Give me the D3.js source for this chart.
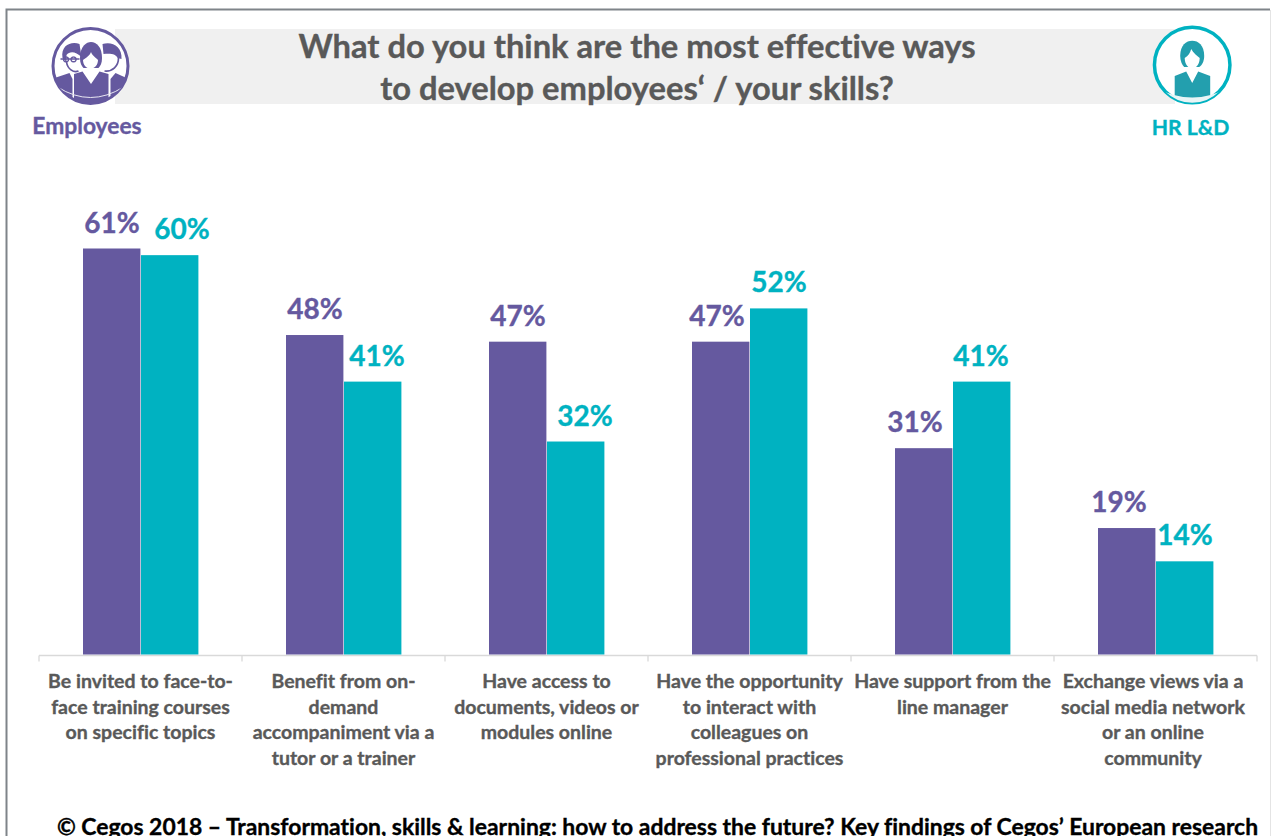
<!DOCTYPE html>
<html>
<head>
<meta charset="utf-8">
<script src="https://cdnjs.cloudflare.com/ajax/libs/d3/7.8.5/d3.min.js"></script>
<style>
html,body{margin:0;padding:0;background:#fff;overflow:hidden}
svg{display:block}
text{font-family:Lato,"Open Sans",sans-serif;font-weight:700;font-variant-ligatures:none;paint-order:stroke;stroke-width:.35px}
</style>
</head>
<body>
<svg id="chart" width="1271" height="836"></svg>
<script>
const categories = [
  ["Be invited to face-to-","face training courses","on specific topics"],
  ["Benefit from on-","demand","accompaniment via a","tutor or a trainer"],
  ["Have access to","documents, videos or","modules online"],
  ["Have the opportunity","to interact with","colleagues on","professional practices"],
  ["Have support from the","line manager"],
  ["Exchange views via a","social media network","or an online","community"]
];
const employees = [61,48,47,47,31,19];
const hrLd = [60,41,32,52,41,14];
const seriesNames = ["Employees","HR L&D"];
const titleLines = ["What do you think are the most effective ways","to develop employees‘ / your skills?"];
const footer = "© Cegos 2018 – Transformation, skills & learning: how to address the future? Key findings of Cegos’ European research";

// hand-placed nudges that keep value labels clear of the neighbouring bar
const employeeLabelNudge = [0,0,0,-4,-9,-8];
const hrLabelNudge = [12,4,9,0,-1,0];
const categoryLabelNudge = [0,0,0,0,0,-2.5];

const PURPLE="#65599f", TEAL="#00b2c1", ICON_TEAL="#239fae", GREY="#595959";
const svg=d3.select("#chart");

// outer frame of the slide
svg.append("path").attr("d","M6.5,836V9.5H1270").attr("fill","none").attr("stroke","#7f8489").attr("stroke-width",2);
svg.append("line").attr("x1",1270.5).attr("x2",1270.5).attr("y1",10).attr("y2",836).attr("stroke","#e4e4e4");

// title band
svg.append("rect").attr("x",115).attr("y",29).attr("width",1060).attr("height",75).attr("fill","#f0f0f0");
svg.selectAll("text.title").data(titleLines).join("text").attr("class","title")
  .attr("x",637).attr("y",(d,i)=>58+i*41.5).attr("text-anchor","middle")
  .attr("font-size",32.7).attr("fill",GREY).attr("stroke",GREY).text(d=>d);

// scales
const x=d3.scaleBand().domain(d3.range(categories.length)).range([39,1257]);
const y=d3.scaleLinear().domain([0,61]).range([654.5,248.5]);
const inner=d3.scaleBand().domain([0,1]).range([0,116]);
const offset=(x.bandwidth()-116)/2+0.5;

// axis baseline with ticks between categories
const axisY=655.5;
svg.append("path").attr("fill","none").attr("stroke","#d9d9d9").attr("stroke-width",1.3)
  .attr("d","M"+x.range()[0]+","+axisY+"H"+x.range()[1]);
svg.selectAll("line.tick").data(d3.range(categories.length+1)).join("line").attr("class","tick")
  .attr("x1",i=>x.range()[0]+i*x.step()).attr("x2",i=>x.range()[0]+i*x.step())
  .attr("y1",axisY).attr("y2",axisY+6).attr("stroke","#d9d9d9").attr("stroke-width",1.3);

// bars and value labels
[[employees,PURPLE,employeeLabelNudge],[hrLd,TEAL,hrLabelNudge]].forEach(([vals,col,nudge],s)=>{
  svg.selectAll("rect.s"+s).data(vals).join("rect").attr("class","s"+s)
    .attr("x",(d,i)=>x(i)+offset+inner(s)).attr("width",inner.bandwidth()-0.6)
    .attr("y",d=>y(d)).attr("height",d=>y(0)-y(d)).attr("fill",col);
  svg.selectAll("text.v"+s).data(vals).join("text").attr("class","v"+s)
    .attr("x",(d,i)=>x(i)+offset+inner(s)+inner.bandwidth()/2+nudge[i]).attr("y",d=>y(d)-16)
    .attr("text-anchor","middle").attr("font-size",28).attr("fill",col).attr("stroke",col).text(d=>d+"%");
});

// category labels
categories.forEach((lines,i)=>{
  const cx=x(i)+x.bandwidth()/2+categoryLabelNudge[i];
  svg.append("text").attr("x",cx).attr("text-anchor","middle")
    .attr("font-size",19.5).attr("fill",GREY).attr("stroke",GREY)
    .selectAll("tspan").data(lines).join("tspan")
    .attr("x",cx).attr("y",(d,j)=>688+j*25.6).text(d=>d);
});

// audience badges
const defs=svg.append("defs");
function badge(id,cx,cy,r,col,sw){
  defs.append("clipPath").attr("id",id).append("circle").attr("r",r-sw/2);
  const g=svg.append("g").attr("transform",`translate(${cx},${cy})`);
  g.append("circle").attr("r",r-sw/2).attr("fill","#fff").attr("stroke",col).attr("stroke-width",sw);
  return g.append("g").attr("clip-path",`url(#${id})`);
}
function employeesIcon(g){
  // colleague on the left, with glasses
  g.append("path").attr("fill",PURPLE).attr("d","M-36,30V12L-21,7L-18,13V36H-36Z");
  g.append("path").attr("fill",PURPLE)
    .attr("d","M-28,-8C-30,-21 -19,-25 -11,-22L-9,-9C-15,-15 -21,-15 -24,-11L-24,-4Z");
  g.append("path").attr("fill","none").attr("stroke",PURPLE).attr("stroke-width",1.7)
    .attr("d","M-24,-4C-23,3 -17,7 -12,5");
  g.append("path").attr("fill","none").attr("stroke",PURPLE).attr("stroke-width",1.4)
    .attr("d","M-30,-7H-11M-24.5,-9a2.6,2.4 0 1 0 .1,0M-17,-9a2.6,2.4 0 1 0 .1,0");
  // colleague on the right
  g.append("path").attr("fill",PURPLE).attr("d","M36,30V12L25,7L20,13V36H36Z");
  g.append("path").attr("fill",PURPLE)
    .attr("d","M12,-22C21,-25 32,-20 31,-7L27,-8C26,-12 20,-13 13,-12Z");
  g.append("path").attr("fill","none").attr("stroke",PURPLE).attr("stroke-width",1.7)
    .attr("d","M28,-8C28,0 22,6 14,5");
  // woman in the centre
  g.append("path").attr("fill",PURPLE).attr("d","M-16.5,36V8L-8,5.5L0.5,18L9,5.5L18,8V36Z");
  g.append("path").attr("fill",PURPLE)
    .attr("d","M-10.5,-8C-10.5,-20 -4,-24 0.5,-24C6,-24 11.5,-19 11.5,-8C11.5,-3 10,0 8,2H-7C-9,0 -10.5,-3 -10.5,-8Z");
  g.append("path").attr("fill","#fff")
    .attr("d","M-7.5,-6C-5,-8 -1,-10 0.5,-14C2,-10 6,-8 7.5,-6C7.5,-1 4,2.5 0,2.5C-4,2.5 -7.5,-1 -7.5,-6Z");
  g.append("path").attr("fill","none").attr("stroke","#e8e6f1").attr("stroke-width",1)
    .attr("d","M-33,21Q0,42 33,21");
}
function hrIcon(g){
  g.append("path").attr("fill",ICON_TEAL).attr("d","M-17.5,40V11L-6,6.5L0,18L6,6.5L18,11V40Z");
  g.append("path").attr("fill","#e8f5f6").attr("d","M-36,23Q0,42 36,23V40H-36Z");
  g.append("path").attr("fill",ICON_TEAL)
    .attr("d","M-12,-9C-12,-20 -6,-24.3 0,-24.3C6,-24.3 12,-20 12,-9C12,-4 10,0 7,2H-8C-10,0 -12,-4 -12,-9Z");
  g.append("path").attr("fill","#fff")
    .attr("d","M-7.5,-7C-4,-9 -2,-12 -1,-16C1,-12 5,-9 7.5,-7C7.5,-1 4,3.5 0,3.5C-4,3.5 -7.5,-1 -7.5,-7Z");
}
employeesIcon(badge("badge-employees",90.5,66,39,PURPLE,3));
hrIcon(badge("badge-hr",1192.2,65,39.5,TEAL,3.5));

svg.append("text").attr("x",87).attr("y",134).attr("text-anchor","middle").attr("font-size",22.8).attr("fill",PURPLE).attr("stroke",PURPLE).text(seriesNames[0]);
svg.append("text").attr("x",1190.5).attr("y",135).attr("text-anchor","middle").attr("font-size",21.2).attr("fill",TEAL).attr("stroke",TEAL).text(seriesNames[1]);

// source line, running to the lower slide edge
svg.append("text").attr("x",657.5).attr("y",835).attr("text-anchor","middle").attr("font-size",22.9).attr("fill","#000").attr("stroke","#000").text(footer);
</script>
</body>
</html>
